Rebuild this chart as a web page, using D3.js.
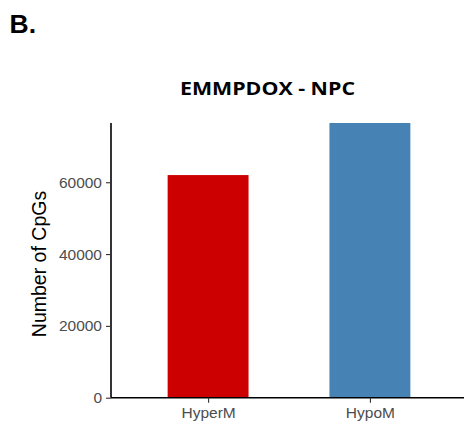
<!DOCTYPE html>
<html>
<head>
<meta charset="utf-8">
<script src="https://cdn.jsdelivr.net/npm/d3@7"></script>
<style>
  html, body { margin: 0; padding: 0; background: #ffffff; }
  svg { display: block; }
</style>
</head>
<body>
<svg id="chart" width="464" height="423"></svg>
<script>
// Differentially methylated CpG counts
const categories = ["HyperM", "HypoM"];
const counts = [62000, 76500];
const barColors = ["#cc0000", "#4682b4"];
const yTicks = [0, 20000, 40000, 60000];

const svg = d3.select("#chart");
const plot = { left: 111, right: 467, top: 123, bottom: 397.7 };

// discrete axis with 0.6-step expansion on each side; bars take half a step
const x = d3.scalePoint()
  .domain(categories)
  .range([plot.left, plot.right])
  .padding(0.6);
const barW = x.step() * 0.5;

const y = d3.scaleLinear()
  .domain([0, d3.max(counts)])
  .range([plot.bottom, plot.top]);

const tickFont = "'Liberation Sans', Arial, sans-serif";

// bars
svg.selectAll("rect.bar")
  .data(categories)
  .join("rect")
  .attr("class", "bar")
  .attr("x", d => x(d) - barW / 2)
  .attr("width", barW)
  .attr("y", (d, i) => y(counts[i]))
  .attr("height", (d, i) => y(0) - y(counts[i]))
  .attr("fill", (d, i) => barColors[i]);

// y axis
const yAxis = svg.append("g")
  .attr("transform", `translate(${plot.left},0)`)
  .call(d3.axisLeft(y).tickValues(yTicks).tickFormat(d3.format("d")).tickSize(5).tickPadding(4));
yAxis.select(".domain").attr("stroke", "#000").attr("stroke-width", 1.6)
  .attr("d", `M0,${plot.bottom}V${plot.top}`);
yAxis.selectAll(".tick line").attr("stroke", "#333").attr("stroke-width", 1.1);
yAxis.selectAll(".tick text")
  .attr("fill", "#4d4d4d")
  .style("font-family", tickFont)
  .style("font-size", "15.5px");

// x axis (the line runs off the right edge)
const xAxis = svg.append("g")
  .attr("transform", `translate(0,${plot.bottom})`)
  .call(d3.axisBottom(x).tickSize(5).tickPadding(4));
xAxis.select(".domain").attr("stroke", "#000").attr("stroke-width", 1.6)
  .attr("d", `M${plot.left},0H${plot.right}`);
xAxis.selectAll(".tick line").attr("stroke", "#333").attr("stroke-width", 1.1);
xAxis.selectAll(".tick text")
  .attr("fill", "#4d4d4d")
  .style("font-family", tickFont)
  .style("font-size", "15.5px");

// y axis title
svg.append("text")
  .attr("transform", "translate(46,264) rotate(-90)")
  .attr("text-anchor", "middle")
  .attr("fill", "#000")
  .style("font-family", tickFont)
  .style("font-size", "19.5px")
  .text("Number of CpGs");

// chart title
svg.append("text")
  .attr("x", 180)
  .attr("y", 95)
  .attr("textLength", 175)
  .attr("lengthAdjust", "spacingAndGlyphs")
  .attr("fill", "#000")
  .style("font-family", "'Open Sans', sans-serif")
  .style("font-weight", "bold")
  .style("font-size", "18.5px")
  .text("EMMPDOX - NPC");

// panel letter
svg.append("text")
  .attr("x", 9.5)
  .attr("y", 33.3)
  .attr("fill", "#000")
  .style("font-family", "'Liberation Sans', Arial, sans-serif")
  .style("font-weight", "bold")
  .style("font-size", "26.5px")
  .text("B.");
</script>
</body>
</html>
